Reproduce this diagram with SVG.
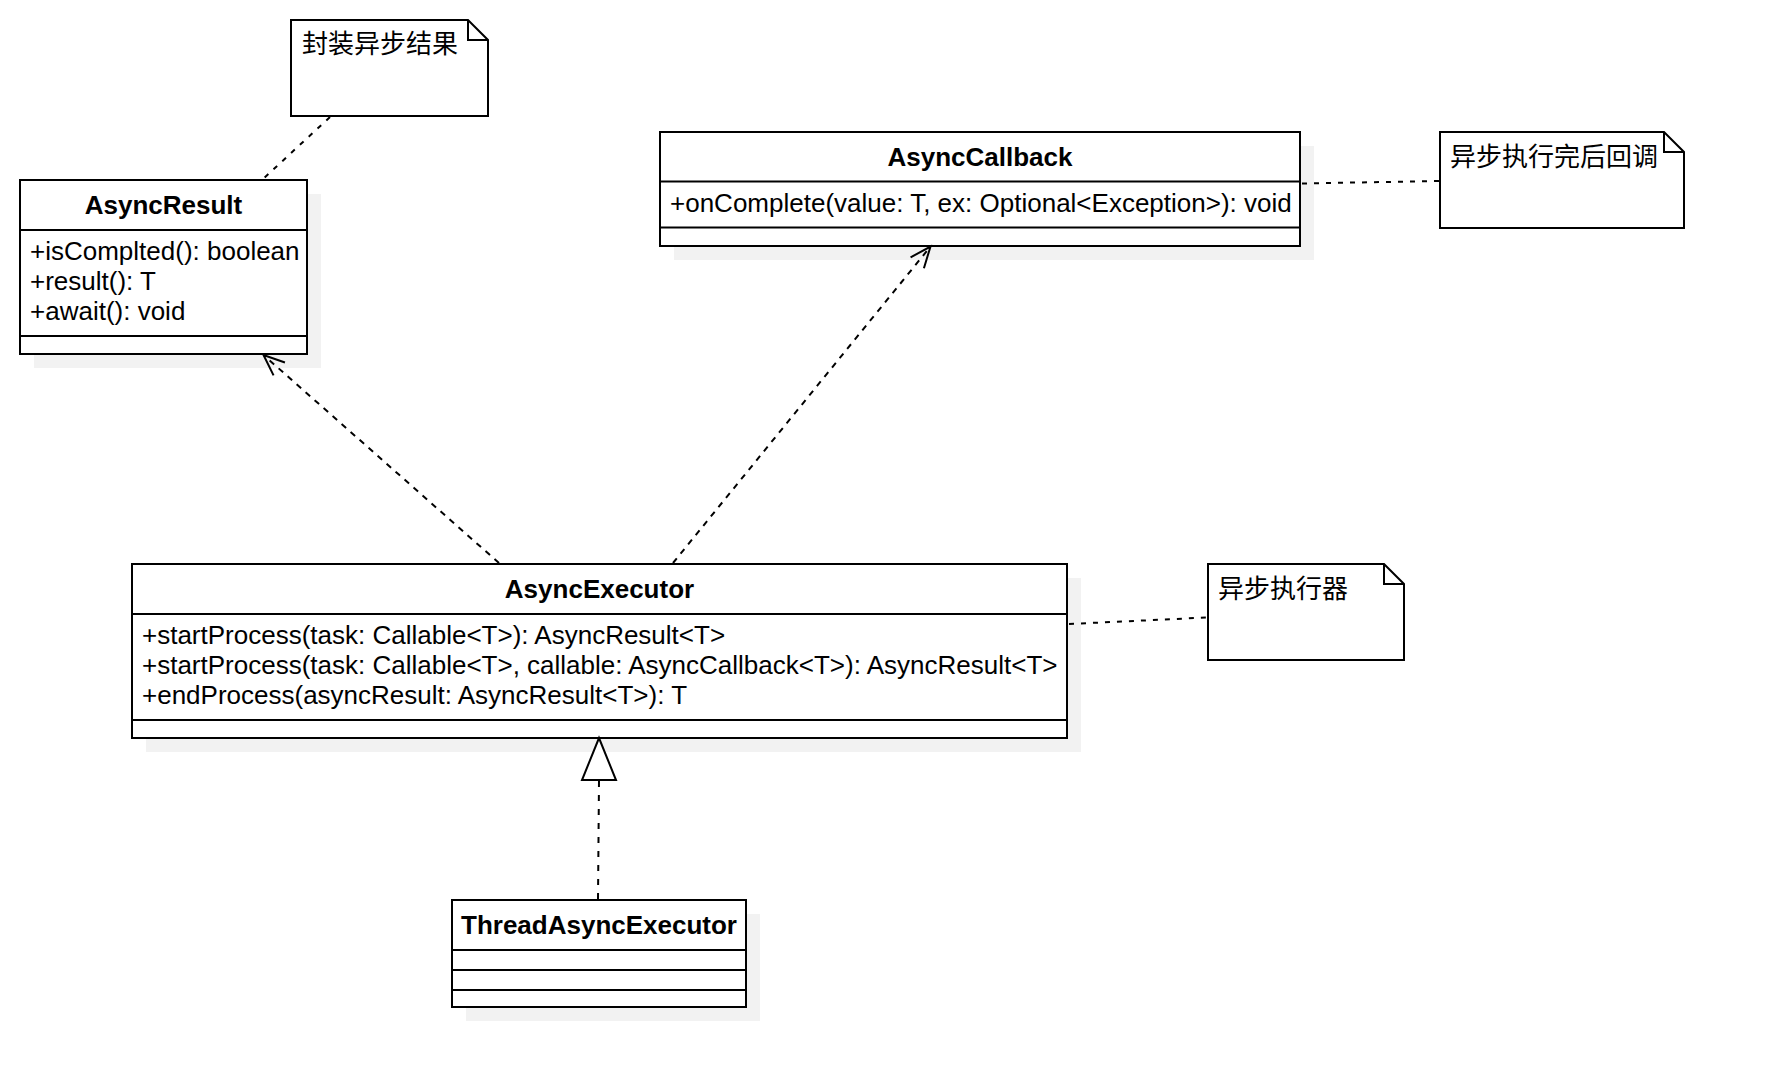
<svg xmlns="http://www.w3.org/2000/svg" width="1766" height="1088" viewBox="0 0 1766 1088">
<style>
  .shadow { fill: #f2f2f2; stroke: none; }
  .box { fill: #ffffff; stroke: #000000; stroke-width: 2; }
  .div { stroke: #000000; stroke-width: 2; fill: none; }
  .note { fill: #ffffff; stroke: #000000; stroke-width: 2; stroke-linejoin: miter; }
  .title { font-family: "Liberation Sans", Arial, sans-serif; font-size: 26px; font-weight: bold; fill: #000000; text-anchor: middle; }
  .member { font-family: "Liberation Sans", Arial, sans-serif; font-size: 26px; fill: #000000; }
  .ntext { font-family: "Liberation Sans", "Noto Sans CJK SC", sans-serif; font-size: 26px; fill: #000000; }
  .dep { stroke: #000000; stroke-width: 2; fill: none; stroke-dasharray: 6 6; }
  .anchor { stroke: #000000; stroke-width: 2; fill: none; stroke-dasharray: 5 7; }
  .real { stroke: #000000; stroke-width: 2; fill: none; stroke-dasharray: 6 8; }
</style>
<defs>
  <marker id="open" markerUnits="userSpaceOnUse" markerWidth="30" markerHeight="30" viewBox="-26 -13 30 26" refX="0" refY="0" orient="auto">
    <path d="M -21 -8.6 L 0 0 L -21 8.6" fill="none" stroke="#000000" stroke-width="2" stroke-dasharray="none"/>
  </marker>
</defs>
<rect width="1766" height="1088" fill="#ffffff"/>

<g id="note-result">
  <path class="note" d="M 291 20 H 468 L 488 40 V 116 H 291 Z"/>
  <path class="div" d="M 468 20 V 40 H 488"/>
  <text class="ntext" x="302" y="53">封装异步结果</text>
</g>

<g id="AsyncResult">
  <rect class="shadow" x="34" y="194" width="287" height="174"/>
  <rect class="box" x="20" y="180" width="287" height="174"/>
  <line class="div" x1="20" y1="230" x2="307" y2="230"/>
  <line class="div" x1="20" y1="336" x2="307" y2="336"/>
  <text class="title" x="163.5" y="214">AsyncResult</text>
  <text class="member" x="30" y="260">+isComplted(): boolean</text>
  <text class="member" x="30" y="290">+result(): T</text>
  <text class="member" x="30" y="320">+await(): void</text>
</g>

<g id="AsyncCallback">
  <rect class="shadow" x="674" y="146" width="640" height="114"/>
  <rect class="box" x="660" y="132" width="640" height="114"/>
  <line class="div" x1="660" y1="181.5" x2="1300" y2="181.5"/>
  <line class="div" x1="660" y1="227.5" x2="1300" y2="227.5"/>
  <text class="title" x="980" y="166">AsyncCallback</text>
  <text class="member" x="670" y="212">+onComplete(value: T, ex: Optional&lt;Exception&gt;): void</text>
</g>

<g id="note-callback">
  <path class="note" d="M 1440 132 H 1664 L 1684 152 V 228 H 1440 Z"/>
  <path class="div" d="M 1664 132 V 152 H 1684"/>
  <text class="ntext" x="1450" y="166">异步执行完后回调</text>
</g>

<g id="AsyncExecutor">
  <rect class="shadow" x="146" y="578" width="935" height="174"/>
  <rect class="box" x="132" y="564" width="935" height="174"/>
  <line class="div" x1="132" y1="614" x2="1067" y2="614"/>
  <line class="div" x1="132" y1="720" x2="1067" y2="720"/>
  <text class="title" x="599.5" y="598">AsyncExecutor</text>
  <text class="member" x="142" y="644">+startProcess(task: Callable&lt;T&gt;): AsyncResult&lt;T&gt;</text>
  <text class="member" x="142" y="674">+startProcess(task: Callable&lt;T&gt;, callable: AsyncCallback&lt;T&gt;): AsyncResult&lt;T&gt;</text>
  <text class="member" x="142" y="704">+endProcess(asyncResult: AsyncResult&lt;T&gt;): T</text>
</g>

<g id="note-executor">
  <path class="note" d="M 1208 564 H 1384 L 1404 584 V 660 H 1208 Z"/>
  <path class="div" d="M 1384 564 V 584 H 1404"/>
  <text class="ntext" x="1218" y="598">异步执行器</text>
</g>

<g id="ThreadAsyncExecutor">
  <rect class="shadow" x="466" y="914" width="294" height="107"/>
  <rect class="box" x="452" y="900" width="294" height="107"/>
  <line class="div" x1="452" y1="950" x2="746" y2="950"/>
  <line class="div" x1="452" y1="970" x2="746" y2="970"/>
  <line class="div" x1="452" y1="990" x2="746" y2="990"/>
  <text class="title" x="599" y="934">ThreadAsyncExecutor</text>
</g>

<g id="connectors">
  <line class="anchor" x1="330" y1="117" x2="263" y2="179"/>
  <line class="anchor" x1="1302" y1="183.5" x2="1439" y2="181"/>
  <line class="anchor" x1="1069" y1="624" x2="1207" y2="617.5"/>
  <line class="dep" x1="499" y1="563" x2="263.5" y2="355" marker-end="url(#open)"/>
  <line class="dep" x1="673" y1="563" x2="930.5" y2="246.5" marker-end="url(#open)"/>
  <line class="real" x1="599" y1="781" x2="598" y2="899"/>
  <polygon points="599,738 616,780 582,780" fill="#ffffff" stroke="#000000" stroke-width="2"/>
</g>
</svg>
